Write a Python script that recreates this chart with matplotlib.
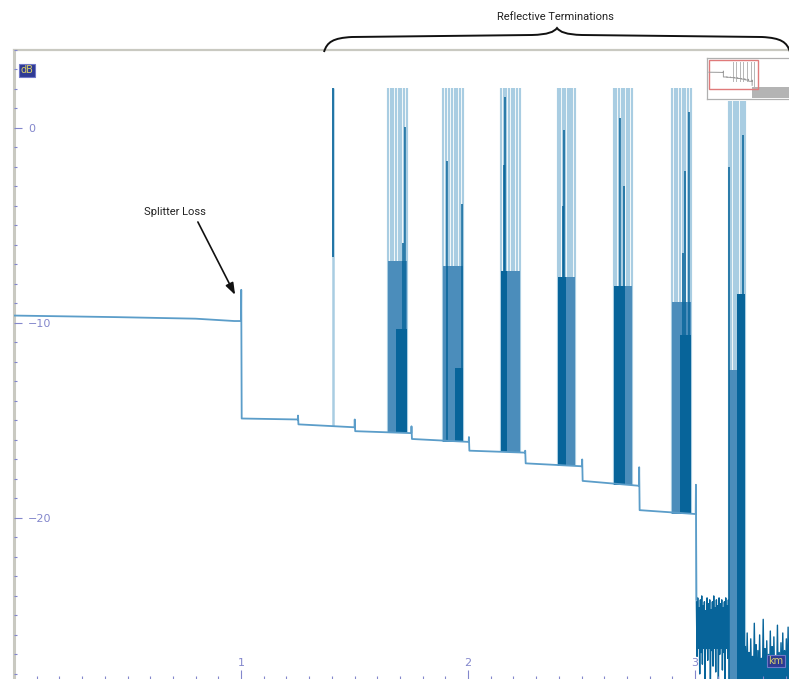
import numpy as np
import matplotlib
matplotlib.use("Agg")
import matplotlib.pyplot as plt
from matplotlib.path import Path
from matplotlib.patches import PathPatch, Rectangle

# backscatter trace (km, dB): levels, small step events, splitter loss at 1 km
trace_km = [0.000, 0.450, 0.800, 0.970, 1.000, 1.001, 1.003, 1.250,
            1.251, 1.253, 1.500, 1.501, 1.503, 1.750, 1.751, 1.753,
            2.003, 2.004, 2.006, 2.251, 2.252, 2.254, 2.502, 2.503,
            2.505, 2.753, 2.754, 2.756, 3.003, 3.004, 3.006]
trace_db = [-9.62, -9.70, -9.78, -9.90, -9.90, -8.30, -14.90, -14.95,
            -14.75, -15.20, -15.35, -14.95, -15.55, -15.65, -15.30, -15.95,
            -16.10, -15.85, -16.55, -16.65, -16.55, -17.20, -17.35, -17.00,
            -18.10, -18.35, -17.40, -19.60, -19.80, -18.30, -24.20]

# single reflective event before the clusters
lone_km = 1.405
lone_dark_from = -6.6

# reflective termination clusters
cl_start = [1.648, 1.892, 2.145, 2.396, 2.643, 2.899, 3.150]
cl_end = [1.731, 1.978, 2.229, 2.471, 2.722, 2.982, 3.222]
cl_top = [2.05, 2.05, 2.05, 2.05, 2.05, 2.05, 1.40]
cl_mid_top = [-6.8, -7.1, -7.35, -7.65, -8.1, -8.9, -12.4]
cl_dark_start = [1.683, 1.943, 2.145, 2.396, 2.643, 2.934, 3.185]
cl_dark_end = [1.731, 1.978, 2.172, 2.432, 2.690, 2.982, 3.222]
cl_dark_top = [-10.3, -12.3, -7.35, -7.65, -8.1, -10.6, -8.5]
spike_frac = [0.0, 0.14, 0.28, 0.42, 0.57, 0.71, 0.85, 1.0]
dark_spike_km = [1.713, 1.722, 1.907, 1.975, 2.157, 2.162, 2.418, 2.423,
                 2.670, 2.685, 2.947, 2.956, 2.974, 3.150, 3.213]
dark_spike_top = [-5.9, 0.05, -1.7, -3.9, -1.9, 1.6, -4.0, -0.1,
                  0.5, -3.0, -6.4, -2.2, 0.8, -2.0, -0.36]

# noise floor after the end of the fibre
noiseA = [-24.3, -27.1, -24.1, -26.4, -24.6, -28.0, -24.2, -26.9, -24.0, -27.5,
          -24.5, -26.2, -24.3, -28.6, -24.8, -26.7, -24.1, -27.3, -24.4, -26.5,
          -24.2, -28.9, -24.7, -26.8, -24.3, -27.6, -24.0, -26.3, -24.6, -27.9,
          -24.2, -26.6, -24.5, -28.4, -24.1, -27.0, -24.4, -26.4, -24.2, -27.8,
          -24.6, -26.9, -24.3, -28.7, -24.1, -26.5, -24.5, -27.2, -24.2, -26.8]
noiseB = [-26.6, -28.8, -25.9, -28.5, -26.9, -29.0, -26.2, -28.6, -27.1, -28.9,
          -25.4, -28.7, -26.5, -29.0, -26.8, -28.4, -26.0, -28.9, -27.2, -28.6,
          -25.2, -28.8, -26.7, -29.0, -26.3, -28.5, -27.0, -28.9, -25.8, -28.7,
          -26.6, -29.0, -26.1, -28.6, -27.3, -28.8, -25.5, -28.9, -26.9, -28.5,
          -26.4, -29.0, -25.9, -28.7, -26.8, -28.9, -26.2, -28.6, -25.6, -28.8]
noiseA_span = (3.006, 3.150)
noiseB_span = (3.222, 3.414)
noiseA_core = (-24.7, -26.7)
noiseB_core = -27.3

x_range = (0.0, 3.414)
y_range = (-28.26, 4.0)

light = "#a9cde2"
medium = "#4b8dbb"
dark = "#07649a"
line_c = "#5b9dc9"
tick_c = "#8387cc"
frame_c = "#c9c9c1"
note_font = ["Roboto", "DejaVu Sans"]

W, H = 789, 679
fig = plt.figure(figsize=(W / 100, H / 100), dpi=100)
ax = fig.add_axes([14 / W, 0, (W - 14) / W, 629 / H])
ax.set_axisbelow(False)


def base_at(km):
    if km >= 3.006:
        return -29.0
    return np.interp(km, trace_km, trace_db)


# clusters
for i in range(len(cl_start)):
    s, e = cl_start[i], cl_end[i]
    base = min(base_at(s), base_at(e))
    xs = [s + f * (e - s) for f in spike_frac]
    ax.vlines(xs, base, cl_top[i], color=light, lw=1.55, zorder=2)
    ax.fill_between([s, e], base, cl_mid_top[i], color=medium, lw=0, zorder=3)
    ax.fill_between([cl_dark_start[i], cl_dark_end[i]], base, cl_dark_top[i],
                    color=dark, lw=0, zorder=4)
for k, t in zip(dark_spike_km, dark_spike_top):
    ax.vlines(k, base_at(k), t, color=dark, lw=1.1, zorder=4)

# lone reflection
ax.vlines(lone_km, base_at(lone_km), 2.05, color=light, lw=1.8, zorder=2)
ax.vlines(lone_km, lone_dark_from, 2.05, color=dark, lw=1.2, zorder=3)

# trace and noise
ax.plot(trace_km, trace_db, color=line_c, lw=1.3, zorder=5)
ax.plot([3.004, 3.006], [-18.3, -24.2], color=light, lw=1.2, zorder=2)
xa = np.linspace(*noiseA_span, len(noiseA))
xb = np.linspace(*noiseB_span, len(noiseB))
ax.fill_between(noiseA_span, *noiseA_core, color=dark, lw=0, zorder=2)
ax.plot(xa, noiseA, color=dark, lw=1.0, zorder=2)
ax.fill_between(noiseB_span, noiseB_core, -29.0, color=dark, lw=0, zorder=2)
ax.plot(xb, noiseB, color=dark, lw=1.0, zorder=2)

ax.set_xlim(*x_range)
ax.set_ylim(*y_range)

for side in ["right", "bottom"]:
    ax.spines[side].set_visible(False)
ax.spines["left"].set_color(frame_c)
ax.spines["left"].set_linewidth(2.2)
ax.spines["top"].set_color(frame_c)
ax.spines["top"].set_linewidth(1.6)

ax.set_xticks([1, 2, 3])
ax.set_xticks(np.arange(0.1, 3.41, 0.1), minor=True)
ax.set_yticks([0, -10, -20])
ax.set_yticks(np.arange(-28, 4.1, 1), minor=True)
ax.tick_params(axis="both", which="both", direction="in", color=tick_c,
               labelcolor=tick_c, labelsize=8, width=0.8)
ax.tick_params(axis="x", which="major", length=6.5, pad=-15)
ax.tick_params(axis="x", which="minor", length=2.2)
ax.tick_params(axis="y", which="major", length=5.5, pad=-10)
ax.tick_params(axis="y", which="minor", length=2.2)
for lbl in ax.get_yticklabels():
    lbl.set_ha("left")

box = dict(boxstyle="square,pad=0.15", fc="#2e3a94", ec="#7078c8", lw=0.8)
ax.text(0.0168, 0.968, "dB", transform=ax.transAxes, ha="center", va="center",
        fontsize=7, color="#d8cf6a", bbox=box, zorder=10)
ax.text(0.983, 0.0286, "km", transform=ax.transAxes, ha="center", va="center",
        fontsize=7, color="#d8cf6a", bbox=box, zorder=10)

# splitter loss note
ax.text(0.709, -4.31, "Splitter Loss", ha="center", va="center", fontsize=8,
        family=note_font, color="#222222")
ax.annotate("", xy=(0.974, -8.56), xytext=(0.810, -4.82),
            arrowprops=dict(arrowstyle="-|>,head_length=0.7,head_width=0.25",
                            color="#111111", lw=1.2, shrinkA=0, shrinkB=0))

# brace over the reflective terminations
pts = [(324, 52), (327, 42), (333, 38), (352, 37), (532, 35),
       (548, 34.5), (554, 32), (557, 28), (560, 32), (566, 34.5), (582, 35),
       (762, 37), (781, 38), (787, 42), (790, 52)]
codes = [Path.MOVETO, Path.CURVE4, Path.CURVE4, Path.CURVE4, Path.LINETO,
         Path.CURVE4, Path.CURVE4, Path.CURVE4, Path.CURVE4, Path.CURVE4, Path.CURVE4,
         Path.LINETO, Path.CURVE4, Path.CURVE4, Path.CURVE4]
verts = [(x / W, 1 - y / H) for x, y in pts]
fig.add_artist(PathPatch(Path(verts, codes), fc="none", ec="#111111", lw=1.4,
                         transform=fig.transFigure))
fig.text(555 / W, 1 - 17 / H, "Reflective Terminations", ha="center", va="center",
         fontsize=8, family=note_font, color="#222222")

# overview inset
axi = fig.add_axes([707 / W, 1 - 99 / H, 95 / W, 41 / H])
axi.set_xlim(-0.14, 6.48)
axi.set_ylim(-39.4, 6.2)
axi.set_xticks([])
axi.set_yticks([])
for sp in axi.spines.values():
    sp.set_color("#b0b0b0")
    sp.set_linewidth(0.9)
axi.plot(trace_km, trace_db, color="#9a9a9a", lw=0.7)
for i in range(len(cl_start)):
    axi.fill_between([cl_start[i], cl_end[i]], min(base_at(cl_start[i]), -20),
                     cl_top[i], color="#b8b8b8", lw=0)
axi.fill_between([3.0, 6.48], -26.3, -38.5, color="#b4b4b4", lw=0)
axi.add_patch(Rectangle((x_range[0], y_range[0]), x_range[1] - x_range[0],
                        y_range[1] - y_range[0], fill=False, ec="#e07a7a", lw=1.0))

fig.savefig("out.png", dpi=100)
